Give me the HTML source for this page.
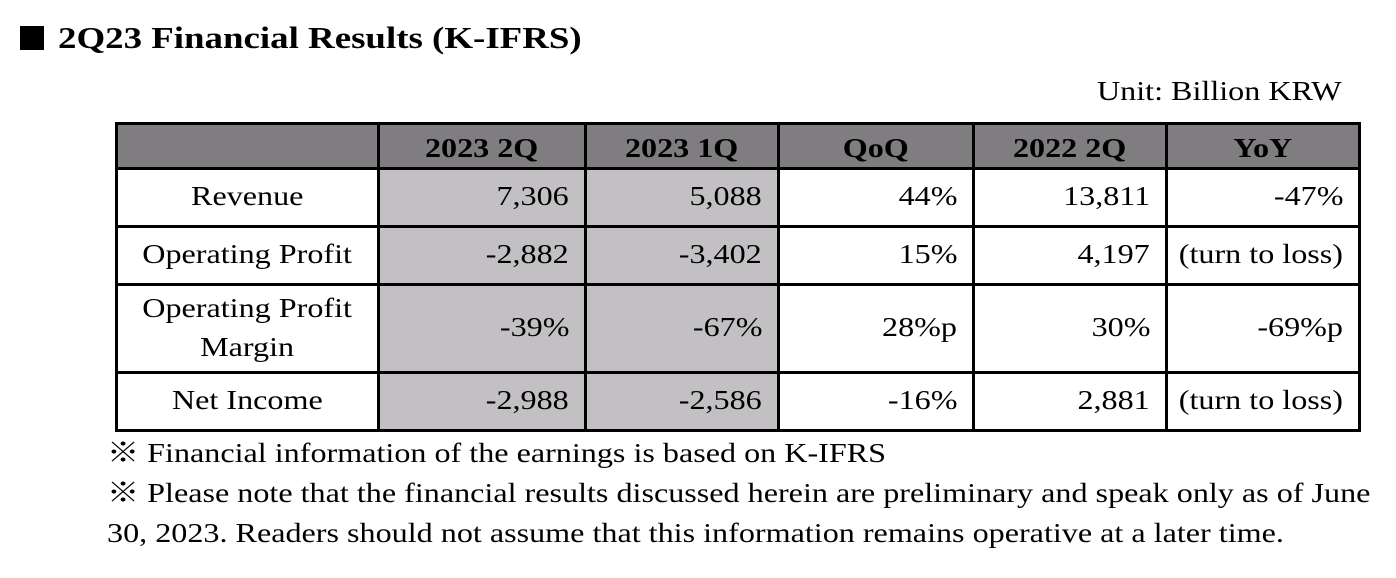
<!DOCTYPE html>
<html><head><meta charset="utf-8"><style>
body{margin:0;width:1396px;height:578px;background:#fff;position:relative;overflow:hidden;font-family:"Liberation Serif",serif;color:#000}
.a{position:absolute}
.c{position:absolute;display:flex;align-items:center;font-size:27px;line-height:1.45;box-sizing:border-box}
.c span{display:inline-block;transform:scaleX(1.19);white-space:nowrap}
.h{font-weight:bold;justify-content:center;padding-top:4px}
.r{justify-content:flex-end;padding-right:16px}
.r span{transform-origin:right center}
.l{justify-content:center;text-align:center}
.l span{transform-origin:center center}
.hl{position:absolute;background:#000;height:3px}
.vl{position:absolute;background:#000;width:3px}
.sx{display:inline-block;transform:scaleX(1.19);transform-origin:left center;white-space:nowrap}
</style></head><body>
<div class="a" style="left:20px;top:20px;font-size:31px;font-weight:bold;white-space:nowrap"><span style="display:inline-block;width:24px;height:24px;background:#000;vertical-align:-2px;margin-right:14px"></span><span class="sx">2Q23 Financial Results (K-IFRS)</span></div>
<div class="a" style="right:54px;top:76px;font-size:27px"><span class="sx" style="transform-origin:right center">Unit: Billion KRW</span></div>
<div>
<div class="a" style="left:116px;top:124px;width:1243px;height:45px;background:#7f7d80"></div>
<div class="a" style="left:378px;top:168px;width:400px;height:262px;background:#c2c0c3"></div>
<div class="c h" style="left:378px;top:124px;width:207px;height:45px"><span>2023 2Q</span></div>
<div class="c h" style="left:585px;top:124px;width:193px;height:45px"><span>2023 1Q</span></div>
<div class="c h" style="left:778px;top:124px;width:195px;height:45px"><span>QoQ</span></div>
<div class="c h" style="left:973px;top:124px;width:193px;height:45px"><span>2022 2Q</span></div>
<div class="c h" style="left:1166px;top:124px;width:193px;height:45px"><span>YoY</span></div>

<div class="c l" style="left:116px;top:168px;width:262px;height:58px"><span>Revenue</span></div>
<div class="c r" style="left:378px;top:168px;width:207px;height:58px"><span>7,306</span></div>
<div class="c r" style="left:585px;top:168px;width:193px;height:58px"><span>5,088</span></div>
<div class="c r" style="left:778px;top:168px;width:195px;height:58px"><span>44%</span></div>
<div class="c r" style="left:973px;top:168px;width:193px;height:58px"><span>13,811</span></div>
<div class="c r" style="left:1166px;top:168px;width:193px;height:58px"><span>-47%</span></div>

<div class="c l" style="left:116px;top:226px;width:262px;height:58px"><span>Operating Profit</span></div>
<div class="c r" style="left:378px;top:226px;width:207px;height:58px"><span>-2,882</span></div>
<div class="c r" style="left:585px;top:226px;width:193px;height:58px"><span>-3,402</span></div>
<div class="c r" style="left:778px;top:226px;width:195px;height:58px"><span>15%</span></div>
<div class="c r" style="left:973px;top:226px;width:193px;height:58px"><span>4,197</span></div>
<div class="c r" style="left:1166px;top:226px;width:193px;height:58px"><span>(turn to loss)</span></div>

<div class="c l" style="left:116px;top:284px;width:262px;height:88px"><span>Operating Profit<br>Margin</span></div>
<div class="c r" style="left:378px;top:284px;width:207px;height:88px"><span>-39%</span></div>
<div class="c r" style="left:585px;top:284px;width:193px;height:88px"><span>-67%</span></div>
<div class="c r" style="left:778px;top:284px;width:195px;height:88px"><span>28%p</span></div>
<div class="c r" style="left:973px;top:284px;width:193px;height:88px"><span>30%</span></div>
<div class="c r" style="left:1166px;top:284px;width:193px;height:88px"><span>-69%p</span></div>

<div class="c l" style="left:116px;top:372px;width:262px;height:58px"><span>Net Income</span></div>
<div class="c r" style="left:378px;top:372px;width:207px;height:58px"><span>-2,988</span></div>
<div class="c r" style="left:585px;top:372px;width:193px;height:58px"><span>-2,586</span></div>
<div class="c r" style="left:778px;top:372px;width:195px;height:58px"><span>-16%</span></div>
<div class="c r" style="left:973px;top:372px;width:193px;height:58px"><span>2,881</span></div>
<div class="c r" style="left:1166px;top:372px;width:193px;height:58px"><span>(turn to loss)</span></div>

<div class="hl" style="left:115px;top:122px;width:1246px"></div>
<div class="hl" style="left:115px;top:167px;width:1246px"></div>
<div class="hl" style="left:115px;top:225px;width:1246px"></div>
<div class="hl" style="left:115px;top:283px;width:1246px"></div>
<div class="hl" style="left:115px;top:371px;width:1246px"></div>
<div class="hl" style="left:115px;top:429px;width:1246px"></div>
<div class="vl" style="left:115px;top:122px;height:310px"></div>
<div class="vl" style="left:377px;top:122px;height:310px"></div>
<div class="vl" style="left:584px;top:122px;height:310px"></div>
<div class="vl" style="left:777px;top:122px;height:310px"></div>
<div class="vl" style="left:972px;top:122px;height:310px"></div>
<div class="vl" style="left:1165px;top:122px;height:310px"></div>
<div class="vl" style="left:1358px;top:122px;height:310px"></div>
</div>
<div class="a" style="left:107px;top:433px;font-size:27px;line-height:40px;font-family:'Liberation Serif','Noto Serif CJK SC',serif;white-space:nowrap"><span class="sx">※ Financial information of the earnings is based on K-IFRS</span></div>
<div class="a" style="left:107px;top:473px;font-size:27px;line-height:40px;font-family:'Liberation Serif','Noto Serif CJK SC',serif;white-space:nowrap"><span class="sx">※ Please note that the financial results discussed herein are preliminary and speak only as of June</span><br><span class="sx">30, 2023. Readers should not assume that this information remains operative at a later time.</span></div>
</body></html>
